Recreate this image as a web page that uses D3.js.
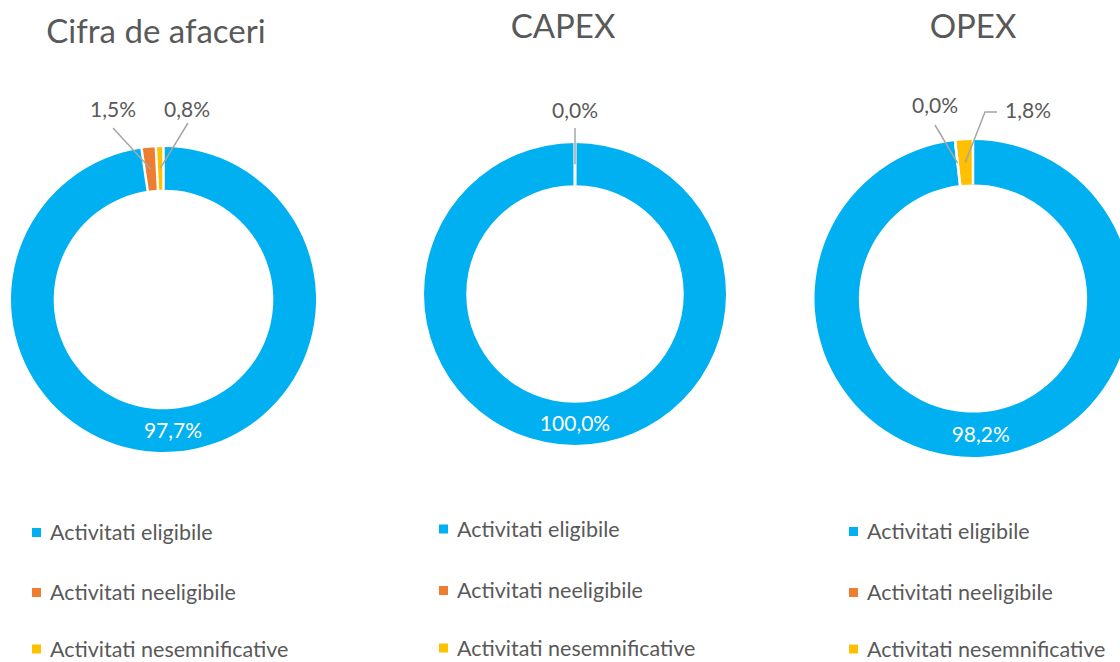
<!DOCTYPE html>
<html lang="ro">
<head>
    <meta charset="UTF-8">
    <script src="https://d3js.org/d3.v7.min.js"></script>
    <title>Cifra de afaceri, CAPEX, OPEX</title>
    <style>
        body { margin:0; background:#fff; }
        text { font-family: Lato, "Open Sans", sans-serif; fill:#595959; }
    </style>
</head>
<body>
<script>
    // data
    var categories = ["Activitati eligibile", "Activitati neeligibile", "Activitati nesemnificative"];
    var titles = ["Cifra de afaceri", "CAPEX", "OPEX"];
    var cifraValues = [97.7, 1.5, 0.8];
    var capexValues = [100.0, 0.0, 0.0];
    var opexValues = [98.2, 0.0, 1.8];
    var colors = ["#00B0F0", "#ED7D31", "#FFC000"];

    var width = 1120, height = 662;
    var fmt = d3.formatLocale({decimal:",", thousands:".", grouping:[3], currency:["",""]}).format(".1f");

    // layout of the three panels
    var panels = [
        {values:cifraValues, cx:163.5, cy:299.5, r:152.5, titleX:156, titleY:43, legX:32, legY:[532.5,592.5,649],
         outside:[{i:1, tx:113, ty:117, anchor:"middle", path:[[113,128]]},
                  {i:2, tx:187, ty:117, anchor:"middle", path:[[188,123]]}]},
        {values:capexValues, cx:575, cy:294, r:151, titleX:563, titleY:38, legX:439, legY:[529,590.5,648],
         outside:[{i:1, tx:575, ty:118, anchor:"middle", path:[[575,128]]}]},
        {values:opexValues, cx:973, cy:298.5, r:158.5, titleX:973, titleY:38, legX:849, legY:[531.5,592.5,649],
         outside:[{i:1, tx:935, ty:113, anchor:"middle", path:[[935,125]]},
                  {i:2, tx:1005, ty:118, anchor:"start", path:[[997,112],[985,112]]}]}
    ];

    var svg = d3.select("body").append("svg").attr("width",width).attr("height",height);

    var pie = d3.pie().sort(null).value(d=>d);

    panels.forEach(function(p, k){
        var rIn = p.r*0.72;
        var arc = d3.arc().innerRadius(rIn).outerRadius(p.r);
        var mid = d3.arc().innerRadius((rIn+p.r)/2).outerRadius((rIn+p.r)/2);
        var slices = pie(p.values);

        var g = svg.append("g").attr("transform","translate("+p.cx+","+p.cy+")");

        g.selectAll("path.slice").data(slices).enter().append("path")
            .attr("class","slice")
            .attr("d",arc)
            .style("fill",(d,i)=>colors[i]);

        // white separators at every slice boundary
        g.selectAll("line.sep").data(slices).enter().append("line")
            .attr("x1",d=>rIn*Math.sin(d.startAngle)).attr("y1",d=>-rIn*Math.cos(d.startAngle))
            .attr("x2",d=>(p.r+1)*Math.sin(d.startAngle)).attr("y2",d=>-(p.r+1)*Math.cos(d.startAngle))
            .style("stroke","#fff").style("stroke-width",2.5);

        // label inside the big slice
        var c0 = mid.centroid(slices[0]);
        g.append("text").attr("x",c0[0]).attr("y",c0[1]).attr("dy","0.36em")
            .attr("text-anchor","middle").style("font-size","21px").style("fill","#fff")
            .text(fmt(p.values[0])+"%");

        // outside labels with leader lines
        p.outside.forEach(function(o){
            var c = mid.centroid(slices[o.i]);
            var pts = o.path.concat([[c[0]+p.cx, c[1]+p.cy]]);
            svg.append("path")
                .attr("d", d3.line()(pts))
                .style("fill","none").style("stroke","#A6A6A6").style("stroke-width",1.5);
            svg.append("text").attr("x",o.tx).attr("y",o.ty)
                .attr("text-anchor",o.anchor).style("font-size","21px")
                .text(fmt(p.values[o.i])+"%");
        });

        // title
        svg.append("text").attr("x",p.titleX).attr("y",p.titleY)
            .attr("text-anchor","middle").style("font-size","33px")
            .text(titles[k]);

        // legend
        var leg = svg.selectAll("g.leg"+k).data(categories).enter().append("g")
            .attr("transform",(d,i)=>"translate("+p.legX+","+p.legY[i]+")");
        leg.append("rect").attr("x",0).attr("y",-4.5).attr("width",9).attr("height",9)
            .style("fill",(d,i)=>colors[i]);
        leg.append("text").attr("x",18).attr("dy","0.36em").style("font-size","21.5px").text(d=>d);
    });
</script>
</body>
</html>
